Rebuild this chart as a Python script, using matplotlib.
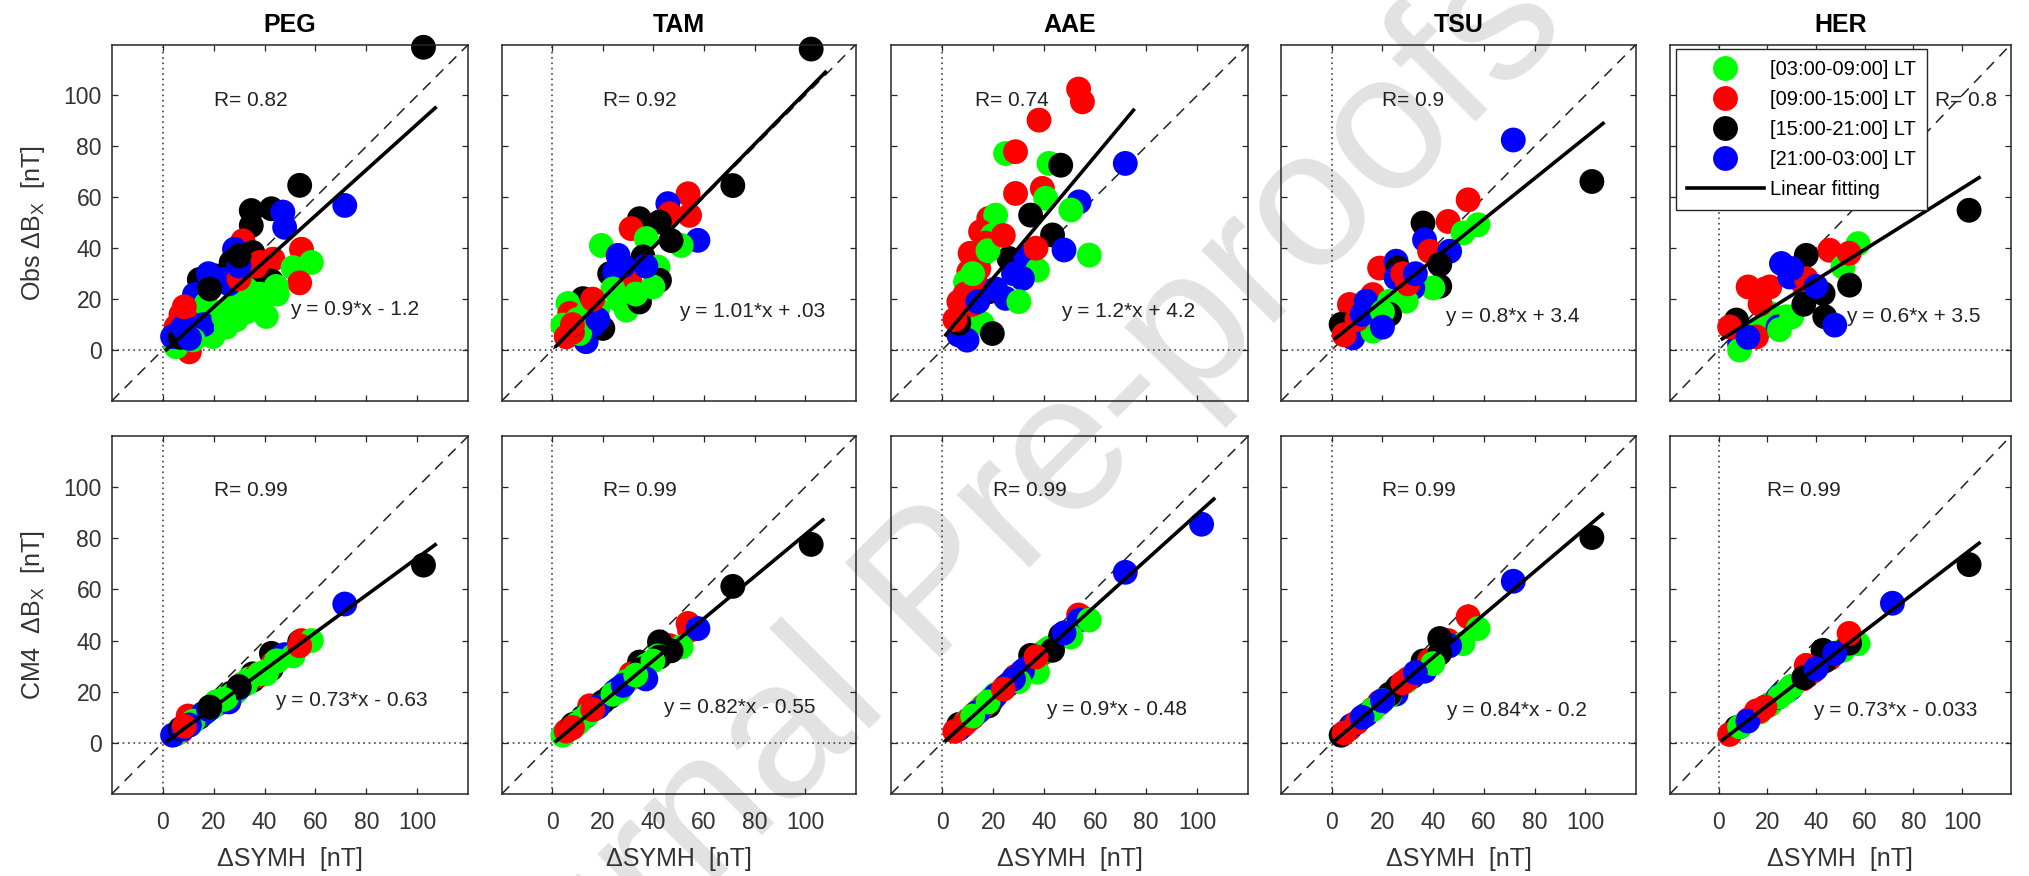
import numpy as np
import matplotlib
matplotlib.use("Agg")
import matplotlib.pyplot as plt
from matplotlib.lines import Line2D

plt.rcParams['font.family'] = ['Liberation Sans', 'DejaVu Sans']
plt.rcParams['mathtext.fontset'] = 'custom'
plt.rcParams['mathtext.rm'] = 'Liberation Sans'
plt.rcParams['mathtext.it'] = 'Liberation Sans:italic'

# estaciones
stations = ['PEG', 'TAM', 'AAE', 'TSU', 'HER']
lt_labels = ['[03:00-09:00] LT', '[09:00-15:00] LT', '[15:00-21:00] LT', '[21:00-03:00] LT']
lt_colors = ['#00ff00', '#ff0000', '#000000', '#0000ff']

# grupo LT: 0 verde, 1 rojo, 2 negro, 3 azul
peg_x = [102.4, 53.8, 71.5, 34.8, 42.7, 34.8, 47.2, 47.9, 31.5, 28.2, 35.4, 38.1, 43.3, 54.5, 58.4, 51.2,
         53.8, 42.7, 35.4, 26.9, 21.0, 14.4, 23.6, 12.5, 7.2, 5.3, 10.5, 40.7, 40.7, 34.0, 28.9, 21.0,
         19.7, 5.3, 27.6, 21.0, 32.8, 15.0, 45.0, 3.9, 8.0, 26.0, 36.7, 30.0, 10.0, 7.0, 17.0, 12.0, 16.0,
         12.0, 25.0, 33.0, 38.0, 44.6, 18.0, 30.0, 30.0, 24.0, 8.0, 10.5, 8.5, 18.5]
peg_lt = [2, 2, 3, 2, 2, 2, 3, 3, 1, 3, 2, 1, 1, 1, 0, 0,
          1, 2, 2, 2, 2, 2, 3, 3, 1, 1, 1, 0, 0, 0, 0, 0,
          0, 0, 0, 0, 0, 0, 0, 3, 3, 3, 1, 1, 1, 2, 0, 3, 3,
          0, 0, 0, 0, 0, 3, 3, 2, 0, 3, 3, 1, 2]
peg_obs = [118.9, 64.7, 56.8, 54.8, 55.5, 48.9, 54.2, 48.2, 42.9, 39.6, 38.3, 34.4, 35.7, 39.6, 34.4, 32.4,
           26.4, 27.1, 27.1, 34.4, 29.1, 27.7, 27.7, 21.8, 13.9, 9.2, -0.7, 13.2, 21.5, 20.0, 11.9, 7.9,
           5.3, 1.3, 17.2, 14.5, 24.0, 10.0, 22.0, 5.3, 8.0, 26.0, 33.0, 28.0, 12.0, 5.0, 18.0, 8.0, 10.0,
           4.0, 9.0, 15.0, 22.0, 25.0, 30.0, 33.0, 37.0, 13.0, 9.0, 4.6, 17.0, 24.0]
peg_cm4 = [69.5, 39.5, 54.3, 26.0, 35.0, 25.0, 34.0, 34.5, 23.0, 20.0, 27.0, 26.5, 31.0, 40.0, 40.0, 34.0,
           38.0, 29.0, 24.5, 19.5, 15.0, 10.0, 16.0, 9.0, 4.5, 3.5, 7.0, 28.0, 27.0, 25.0, 20.0, 16.0,
           14.0, 3.5, 19.0, 16.0, 23.0, 11.0, 32.0, 3.0, 6.0, 16.0, 26.0, 22.0, 10.5, 5.5, 12.0, 8.5, 11.5,
           8.5, 17.5, 24.0, 27.0, 32.0, 13.0, 21.5, 22.0, 17.0, 5.5, 7.0, 6.5, 14.0]

tam_x = [102.4, 71.4, 53.7, 45.7, 54.3, 46.4, 34.5, 42.4, 31.2, 37.2, 57.6, 51.0, 19.4, 47.0, 35.9, 26.0,
         22.7, 24.7, 41.8, 42.4, 30.6, 26.6, 29.3, 34.5, 39.8, 14.8, 12.1, 6.2, 6.9, 4.2, 5.5, 13.4,
         20.0, 16.1, 10.8, 8.0, 37.0, 8.2, 18.0,
         10.0, 14.0, 8.0, 18.0, 24.0, 28.0, 33.0, 16.0]
tam_lt = [2, 2, 1, 3, 1, 1, 2, 2, 1, 0, 3, 0, 0, 2, 2, 3,
          2, 3, 0, 2, 1, 0, 0, 2, 0, 1, 2, 0, 1, 0, 1, 3,
          2, 3, 0, 1, 3, 2, 0,
          0, 0, 1, 3, 0, 3, 0, 1]
tam_obs = [118.2, 64.6, 61.4, 57.5, 52.9, 53.5, 51.6, 50.3, 47.7, 43.8, 43.1, 41.1, 41.1, 43.0, 36.6, 37.2,
           30.0, 30.7, 32.6, 27.4, 27.4, 19.6, 15.7, 18.9, 24.8, 19.6, 20.2, 18.3, 14.4, 9.8, 5.2, 3.3,
           8.5, 9.8, 6.5, 7.0, 33.0, 10.0, 16.0,
           12.0, 15.0, 10.0, 12.0, 24.0, 33.0, 22.0, 20.0]
tam_cm4 = [77.6, 61.2, 46.7, 37.0, 44.0, 38.0, 31.6, 39.5, 27.0, 30.3, 44.7, 37.5, 15.5, 36.0, 29.0, 21.0,
           18.0, 20.0, 34.0, 33.6, 25.0, 20.4, 24.0, 28.0, 32.0, 14.5, 10.0, 5.0, 5.5, 3.0, 4.6, 10.5,
           16.0, 13.0, 8.5, 6.0, 25.0, 7.2, 14.0,
           7.5, 11.0, 6.0, 14.0, 19.0, 22.5, 26.5, 13.0]

aae_x = [53.5, 55.0, 38.0, 24.9, 28.8, 41.9, 46.5, 71.8, 28.8, 39.3, 40.6, 53.7, 50.5, 34.7, 18.3, 21.0,
         15.1, 43.3, 47.8, 57.7, 19.7, 26.2, 32.8, 15.7, 10.5, 14.4, 37.4, 31.5, 24.9, 30.1, 6.6, 7.9,
         18.3, 15.7, 19.7, 6.6, 9.8, 6.6, 9.2, 36.8, 12.0, 101.7,
         11.0, 9.0, 13.0, 5.0, 17.0, 21.0, 14.0, 28.0, 18.0, 12.0, 24.0]
aae_lt = [1, 1, 1, 0, 1, 0, 2, 3, 1, 1, 0, 3, 0, 2, 1, 0,
          1, 2, 3, 0, 0, 2, 3, 0, 1, 1, 0, 3, 3, 0, 1, 1,
          2, 0, 2, 3, 3, 2, 0, 1, 1, 3,
          1, 1, 1, 1, 1, 3, 3, 3, 0, 0, 1]
aae_obs = [102.5, 97.5, 90.3, 77.2, 77.9, 73.3, 72.6, 73.3, 61.5, 63.5, 59.6, 58.2, 55.0, 53.0, 51.7, 53.0,
           46.5, 45.2, 39.3, 37.3, 45.0, 36.0, 36.6, 37.3, 30.8, 32.0, 31.4, 28.1, 20.3, 19.0, 19.0, 13.7,
           22.9, 10.5, 6.5, 5.9, 3.9, 10.5, 26.8, 40.0, 18.0, np.nan,
           38.0, 22.0, 27.0, 12.0, 42.0, 24.0, 19.0, 30.0, 39.0, 30.0, 45.0]
aae_cm4 = [50.0, 49.0, 34.0, 22.0, 25.5, 37.0, 42.0, 66.7, 26.0, 35.0, 36.0, 48.0, 41.4, 34.2, 16.0, 19.0,
           13.0, 36.2, 43.0, 48.0, 17.5, 23.0, 29.0, 14.0, 9.0, 12.5, 27.6, 28.0, 22.0, 24.0, 5.6, 6.5,
           14.5, 14.0, 17.0, 5.5, 8.5, 7.2, 8.0, 33.6, 10.0, 85.5,
           9.5, 7.5, 11.5, 4.5, 15.0, 18.5, 12.0, 25.0, 16.0, 10.5, 21.0]

tsu_x = [71.6, 102.6, 53.8, 45.9, 57.7, 51.8, 36.0, 36.6, 38.6, 46.5, 42.6, 42.6, 39.9, 18.9, 25.4, 26.1,
         25.4, 32.0, 29.4, 16.2, 7.0, 13.6, 7.6, 3.7, 8.3, 18.9, 16.2, 22.8, 22.8, 4.9, 30.0,
         10.0, 12.0, 20.0, 28.0, 33.0, 20.0]
tsu_lt = [3, 2, 1, 1, 0, 0, 2, 3, 1, 3, 2, 2, 0, 1, 3, 2,
          3, 3, 0, 1, 1, 3, 2, 2, 3, 3, 0, 0, 2, 1, 1,
          1, 3, 0, 1, 3, 3]
tsu_obs = [82.5, 66.2, 59.0, 50.5, 49.2, 46.0, 49.9, 43.3, 38.8, 38.8, 33.6, 25.1, 24.4, 32.2, 34.9, 32.2,
           28.3, 24.4, 19.2, 21.8, 17.9, 19.2, 10.1, 10.1, 4.8, 10.1, 7.4, 19.2, 14.0, 6.0, 26.0,
           12.0, 14.0, 15.0, 30.0, 30.0, 9.0]
tsu_cm4 = [63.2, 80.3, 49.3, 40.0, 44.7, 38.8, 32.0, 28.0, 32.2, 38.0, 40.8, 35.0, 31.0, 16.0, 21.0, 22.0,
           19.1, 26.0, 24.0, 13.2, 5.5, 11.0, 6.6, 3.0, 7.0, 15.5, 13.0, 18.5, 19.0, 3.9, 25.0,
           8.0, 10.0, 16.5, 23.5, 27.5, 16.5]

her_x = [102.9, 71.4, 57.3, 45.6, 36.0, 51.1, 25.8, 12.1, 21.0, 34.7, 38.8, 29.2, 53.8, 42.9, 43.6, 47.7,
         27.8, 16.8, 8.6, 7.3, 4.5, 21.0, 24.4, 8.6, 15.5, 53.6, 36.0,
         17.0, 30.0, 30.0, 25.0, 12.0, 35.0, 40.0, 19.0]
her_lt = [2, 3, 0, 1, 2, 0, 3, 1, 1, 1, 1, 3, 2, 2, 2, 3,
          0, 0, 3, 2, 1, 0, 3, 0, 1, 1, 1,
          1, 3, 0, 0, 3, 2, 3, 1]
her_obs = [54.9, 70.0, 41.8, 39.2, 37.2, 32.7, 34.0, 24.8, 24.8, 26.1, 24.2, 28.7, 25.5, 22.2, 13.1, 9.8,
           13.1, 7.8, 2.6, 11.8, 9.1, 14.4, 9.1, 0.0, 5.2, 38.0, 28.0,
           18.0, 32.0, 13.0, 8.0, 5.0, 18.0, 25.0, 24.0]
her_cm4 = [69.7, 54.6, 38.8, 33.0, 26.0, 36.2, 19.0, 9.0, 15.0, 25.0, 28.0, 21.0, 39.0, 36.2, 32.0, 35.0,
           20.0, 12.0, 6.3, 5.9, 3.3, 15.0, 17.8, 6.3, 12.5, 42.8, 30.3,
           12.5, 22.0, 22.0, 18.0, 8.5, 25.5, 29.0, 14.0]

# ajustes lineales (pendiente, ordenada) y texto
obs_slope = [0.9, 1.01, 1.2, 0.8, 0.6]
obs_icpt = [-1.2, 0.03, 4.2, 3.4, 3.5]
obs_R = ['0.82', '0.92', '0.74', '0.9', '0.8']
obs_eq = ['y = 0.9*x - 1.2', 'y = 1.01*x + .03', 'y = 1.2*x + 4.2', 'y = 0.8*x + 3.4', 'y = 0.6*x + 3.5']
cm4_slope = [0.73, 0.82, 0.9, 0.84, 0.73]
cm4_icpt = [-0.63, -0.55, -0.48, -0.2, -0.033]
cm4_R = ['0.99', '0.99', '0.99', '0.99', '0.99']
cm4_eq = ['y = 0.73*x - 0.63', 'y = 0.82*x - 0.55', 'y = 0.9*x - 0.48', 'y = 0.84*x - 0.2', 'y = 0.73*x - 0.033']
obs_fit_hi = [107, 108, 75, 107, 107]
cm4_fit_hi = [107, 107, 106.5, 106.7, 107]

data = {
    'PEG': (peg_x, peg_lt, peg_obs, peg_cm4),
    'TAM': (tam_x, tam_lt, tam_obs, tam_cm4),
    'AAE': (aae_x, aae_lt, aae_obs, aae_cm4),
    'TSU': (tsu_x, tsu_lt, tsu_obs, tsu_cm4),
    'HER': (her_x, her_lt, her_obs, her_cm4),
}

# posicion de los ejes en pixeles
W, H = 2029, 876
lefts = [111.7, 501.7, 891.0, 1281.0, 1670.0]
rights = [468.3, 855.7, 1248.3, 1636.0, 2010.7]
tops = [44.5, 436.0]
bottoms = [401.0, 794.0]
msize = 320

fig = plt.figure(figsize=(W / 100, H / 100), dpi=100)

# marca de agua
fig.text(0.478, 0.365, 'Journal Pre-proofs', rotation=45, fontsize=140, color='#e2e2e2',
         ha='center', va='center', zorder=-1)

axcol = '#262626'
for row in range(2):
    for j, st in enumerate(stations):
        x, lt, obs, cm4 = data[st]
        yv = obs if row == 0 else cm4
        rect = [lefts[j] / W, 1 - bottoms[row] / H, (rights[j] - lefts[j]) / W, (bottoms[row] - tops[row]) / H]
        ax = fig.add_axes(rect)
        ax.set_facecolor('none')

        ax.plot([-20, 120], [-20, 120], color='#222222', lw=1.1, dashes=(7, 5), zorder=1)
        ax.axhline(0, color='#333333', lw=1.1, dashes=(1.1, 2.4), zorder=1)
        ax.axvline(0, color='#333333', lw=1.1, dashes=(1.1, 2.4), zorder=1)

        cols = [lt_colors[k] for k in lt]
        ax.scatter(x, yv, s=msize, c=cols, edgecolors='none', zorder=2, clip_on=False)

        if row == 0:
            slope, icpt, hi = obs_slope[j], obs_icpt[j], obs_fit_hi[j]
        else:
            slope, icpt, hi = cm4_slope[j], cm4_icpt[j], cm4_fit_hi[j]
        xf = np.array([1.5, hi])
        ax.plot(xf, slope * xf + icpt, color='k', lw=2.6, zorder=3)

        ax.set_xlim(-20, 120)
        ax.set_ylim(-20, 120)
        ax.set_xticks(range(0, 101, 20))
        ax.set_yticks(range(0, 101, 20))
        ax.tick_params(direction='in', top=True, right=True, length=4, width=0.9, colors=axcol,
                       labelsize=16.5, labelcolor='#333333')
        ax.tick_params(axis='x', pad=12)
        ax.tick_params(axis='y', pad=7)
        for sp in ax.spines.values():
            sp.set_color(axcol)
            sp.set_linewidth(1.1)

        if row == 0:
            ax.tick_params(labelbottom=False)
            ax.set_title(st, fontsize=18, fontweight='bold', pad=9)
            rx = 89 if st == 'HER' else (13 if st == 'AAE' else 20)
            ax.text(rx, 98, 'R= ' + obs_R[j], fontsize=15, va='center', ha='left', color='#222222', zorder=4)
            eq_pos = [(50, 16), (50, 15), (46.5, 15), (44.6, 13.3), (52.5, 13)]
            ax.text(eq_pos[j][0], eq_pos[j][1], obs_eq[j], fontsize=15, va='center', ha='left',
                    color='#222222', zorder=4)
        else:
            ax.set_xlabel('ΔSYMH  [nT]', fontsize=18, labelpad=9.5, color='#333333')
            ax.text(20, 98.5, 'R= ' + cm4_R[j], fontsize=15, va='center', ha='left', color='#222222', zorder=4)
            eq_pos = [(44, 16.4), (43.8, 13.8), (40.8, 13.2), (45, 12.5), (38.8, 12.5)]
            ax.text(eq_pos[j][0], eq_pos[j][1], cm4_eq[j], fontsize=15, va='center', ha='left',
                    color='#222222', zorder=4)

        if j == 0:
            lab = 'Obs ΔB$_\\mathrm{X}$  [nT]' if row == 0 else 'CM4  ΔB$_\\mathrm{X}$  [nT]'
            ax.set_ylabel(lab, fontsize=18, labelpad=12, color='#333333')
        else:
            ax.tick_params(labelleft=False)

        if row == 0 and st == 'HER':
            hs = [Line2D([], [], ls='none', marker='o', markersize=np.sqrt(msize), markerfacecolor=c,
                         markeredgecolor='none') for c in lt_colors]
            hl = Line2D([], [], color='k', lw=2.6)
            leg = ax.legend(hs + [hl], lt_labels + ['Linear fitting'], loc='upper left',
                            bbox_to_anchor=(1676 / W, 1 - 49 / H), bbox_transform=fig.transFigure,
                            borderaxespad=0, fontsize=14.5, handlelength=3.8, handletextpad=0.3,
                            labelspacing=0.55, borderpad=0.55, fancybox=False, framealpha=1,
                            edgecolor=axcol, numpoints=1)
            leg.get_frame().set_linewidth(1.0)
            leg.set_zorder(5)

fig.savefig('out.png', dpi=100)
